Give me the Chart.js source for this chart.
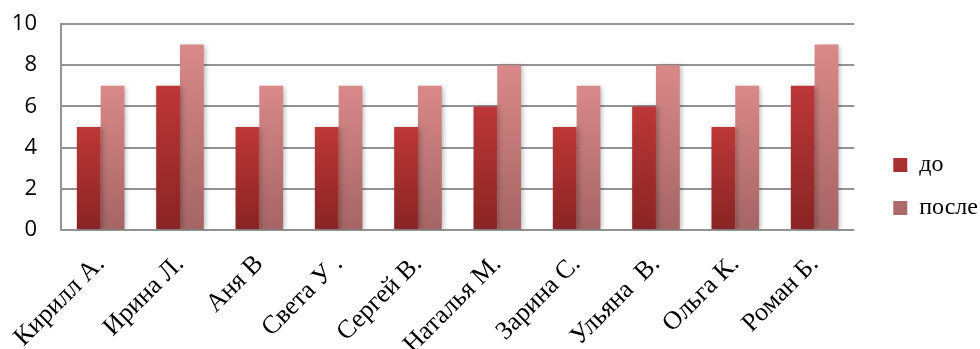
<!DOCTYPE html>
<html lang="ru">
<head>
<meta charset="utf-8">
<title>до / после</title>
<script src="https://cdn.jsdelivr.net/npm/chart.js@4.4.1/dist/chart.umd.min.js"></script>
<style>
  html, body { margin: 0; padding: 0; background: #fff; overflow: hidden; }
  .chart-wrap { position: relative; width: 980px; height: 349px; }
</style>
</head>
<body>
<div class="chart-wrap"><canvas id="scoreChart"></canvas></div>
<script>
// Chart data
const names = ["Кирилл А.", "Ирина Л.", "Аня В", "Света У .", "Сергей В.", "Наталья М.", "Зарина С.", "Ульяна  В.", "Ольга К.", "Роман Б."];
const before = [5, 7, 5, 5, 5, 6, 5, 6, 5, 7];
const after = [7, 9, 7, 7, 7, 8, 7, 8, 7, 9];
const yTicks = [0, 2, 4, 6, 8, 10];

const serif = "'Liberation Serif', 'Times New Roman', serif";
const sans = "'Open Sans', 'Noto Sans', sans-serif";
const gridColor = "#939393";

const palette = {
  before: { top: "#bd3737", bottom: "#892424", swatch: "#a52c2c" },
  after: { top: "#da8989", bottom: "#a56464", swatch: "#c27676" },
};

// Vertical gradient per bar, lighter at the top
function barGradient(colors) {
  return (ctx) => {
    if (ctx.type !== "data") return colors.swatch;
    const chart = ctx.chart;
    if (!chart.chartArea) return colors.top;
    const y = chart.scales.y;
    const top = y.getPixelForValue(ctx.raw);
    const bottom = y.getPixelForValue(0);
    const g = chart.ctx.createLinearGradient(0, top, 0, bottom);
    g.addColorStop(0, colors.top);
    g.addColorStop(1, colors.bottom);
    return g;
  };
}

// Soft shadow behind the bars
const barShadow = {
  id: "barShadow",
  beforeDatasetsDraw(chart) {
    const c = chart.ctx;
    c.save();
    c.shadowColor = "rgba(0, 0, 0, 0.28)";
    c.shadowBlur = 5;
    c.shadowOffsetX = 2;
    c.shadowOffsetY = 1;
  },
  afterDatasetsDraw(chart) {
    chart.ctx.restore();
  },
};

// Move legend away from the plot a bit
const legendNudge = {
  id: "legendNudge",
  afterLayout(chart) {
    const lg = chart.legend;
    lg.left += 20;
    lg.right += 20;
  },
};

new Chart(document.getElementById("scoreChart"), {
  type: "bar",
  data: {
    labels: names,
    datasets: [
      {
        label: "до",
        data: before,
        backgroundColor: barGradient(palette.before),
        borderWidth: 0,
        barPercentage: 1,
        categoryPercentage: 0.6,
      },
      {
        label: "после",
        data: after,
        backgroundColor: barGradient(palette.after),
        borderWidth: 0,
        barPercentage: 1,
        categoryPercentage: 0.6,
      },
    ],
  },
  options: {
    responsive: true,
    maintainAspectRatio: false,
    animation: false,
    layout: { padding: { top: 24, right: 12, left: 0, bottom: 0 } },
    plugins: {
      legend: {
        position: "right",
        labels: {
          boxWidth: 14,
          boxHeight: 14,
          padding: 19,
          color: "#000",
          font: { family: serif, size: 24 },
        },
      },
      tooltip: { enabled: false },
    },
    scales: {
      x: {
        grid: { display: false },
        border: { display: false },
        ticks: {
          minRotation: 45,
          maxRotation: 45,
          autoSkip: false,
          color: "#000",
          padding: 11,
          font: { family: serif, size: 26 },
        },
        afterFit: (scale) => {
          scale.height = 119;
        },
      },
      y: {
        min: 0,
        max: 10,
        grid: {
          color: gridColor,
          lineWidth: 2,
          drawTicks: true,
          tickLength: 24,
          tickColor: "rgba(0, 0, 0, 0)",
        },
        border: { color: gridColor, width: 2 },
        ticks: {
          padding: 0,
          color: "#000",
          font: { family: sans, size: 22 },
        },
        afterBuildTicks: (scale) => {
          scale.ticks = yTicks.map((v) => ({ value: v }));
        },
        afterFit: (scale) => {
          scale.width = 61;
        },
      },
    },
  },
  plugins: [barShadow, legendNudge],
});
</script>
</body>
</html>
